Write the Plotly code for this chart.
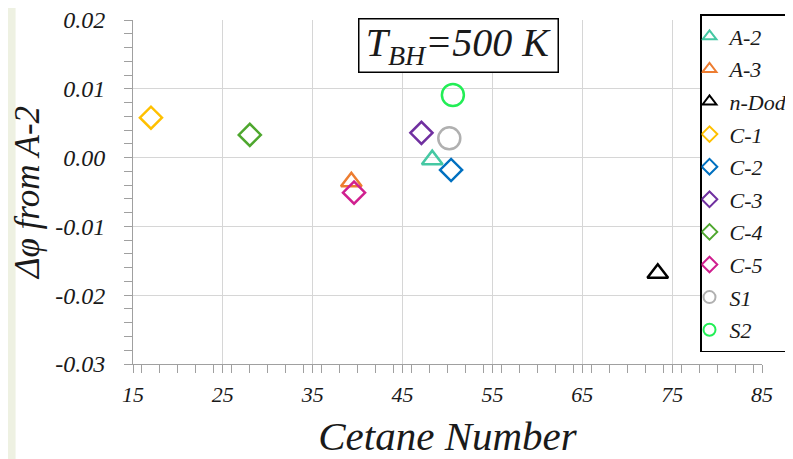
import plotly.graph_objects as go

names = ["A-2", "A-3", "n-Dod", "C-1", "C-2", "C-3", "C-4", "C-5", "S1", "S2"]
cetane = [48.3, 39.3, 73.4, 17.0, 50.4, 47.1, 28.0, 39.6, 50.2, 50.6]
dphi = [-0.0003, -0.0035, -0.0168, 0.0058, -0.0018, 0.0036, 0.0033, -0.0051, 0.0028, 0.0091]
symbols = ["triangle-up-open", "triangle-up-open", "triangle-up-open",
           "diamond-open", "diamond-open", "diamond-open", "diamond-open", "diamond-open",
           "circle-open", "circle-open"]
colors = ["#45c8a3", "#ed7d31", "#000000", "#ffc000", "#0070c0", "#7030a0",
          "#4ea72e", "#d0208f", "#b0b0b0", "#22ee55"]
sizes = [18, 18, 18, 17, 17, 17, 17, 17, 22, 22]

x_ticks = [15, 25, 35, 45, 55, 65, 75, 85]
y_ticks = [-0.03, -0.02, -0.01, 0.0, 0.01, 0.02]

FONT = "Liberation Serif, Times New Roman, serif"
TXT = "#1a1a1a"

fig = go.Figure()
for i, n in enumerate(names):
    fig.add_trace(go.Scatter(
        x=[cetane[i]], y=[dphi[i]], mode="markers", name=f"<i>{n}</i>",
        legendgroup=n,
        marker=dict(symbol=symbols[i], size=sizes[i], color=colors[i],
                    line=dict(width=2.5, color=colors[i])),
    ))

# page body has an 8px margin; compensate so the plot lands where the reference has it
OFF = 8
W, H = 785, 451
L, T = 132.5 - OFF, 20 - OFF
R = W - (762 - OFF)
B = H - (364 - OFF)
pw, ph = W - L - R, H - T - B

def px(xp):
    return (xp - OFF - L) / pw

def py(yp):
    return (H - B - (yp - OFF)) / ph

fig.add_shape(type="rect", xref="paper", yref="paper",
              x0=px(15), x1=px(820), y0=py(0), y1=py(480),
              fillcolor="white", line=dict(width=0), layer="below")

fig.add_annotation(
    xref="paper", yref="paper", x=px(458), y=py(45.5),
    text="<i>T<sub>BH</sub>=500 K</i>", showarrow=False,
    font=dict(family=FONT, size=40, color=TXT),
    bordercolor="black", borderwidth=1.5, bgcolor="white",
    width=196, height=50, xanchor="center", yanchor="middle")

axis_common = dict(
    showline=True, linecolor="#a0a0a0", linewidth=1,
    showgrid=True, gridcolor="#d6d6d6", gridwidth=1,
    ticks="outside", tickcolor="#a0a0a0", ticklen=8,
    zeroline=False, mirror=False, automargin=False,
    ticklabeloverflow="allow",
)

fig.update_layout(
    width=W, height=H,
    margin=dict(l=L, r=R, t=T, b=B, autoexpand=False),
    paper_bgcolor="#eef1e2", plot_bgcolor="rgba(0,0,0,0)",
    showlegend=True,
    legend=dict(
        xref="container", yref="container",
        x=(700 - OFF) / W, y=1 - (14 - OFF) / H, xanchor="left", yanchor="top",
        bgcolor="white", bordercolor="black", borderwidth=1.5,
        font=dict(family=FONT, size=22, color=TXT),
        itemsizing="constant", tracegroupgap=1, traceorder="grouped",
        itemwidth=30, indentation=-12,
    ),
    xaxis=dict(
        range=[15, 85.0001], tickvals=x_ticks, ticktext=[f"<i>{v}</i>" for v in x_ticks],
        minor=dict(dtick=2, ticks="outside", ticklen=8, tickcolor="#a0a0a0", showgrid=False),
        tickfont=dict(family=FONT, size=22, color=TXT), ticklabelstandoff=3,
        title=dict(text="<i>Cetane Number</i>", font=dict(family=FONT, size=41, color=TXT), standoff=17),
        **axis_common,
    ),
    yaxis=dict(
        range=[-0.03, 0.0200001], tickvals=y_ticks, ticktext=[f"<i>{v:.2f}</i>" for v in y_ticks],
        minor=dict(dtick=0.002, ticks="outside", ticklen=8, tickcolor="#a0a0a0", showgrid=False),
        tickfont=dict(family=FONT, size=24, color=TXT), ticklabelstandoff=14,
        title=dict(text="<i>Δφ from A-2</i>", font=dict(family=FONT, size=35, color=TXT), standoff=12),
        **axis_common,
    ),
)

try:
    fig.update_layout(legend_maxheight=420)
except Exception:
    pass

fig.write_html("out.html")
